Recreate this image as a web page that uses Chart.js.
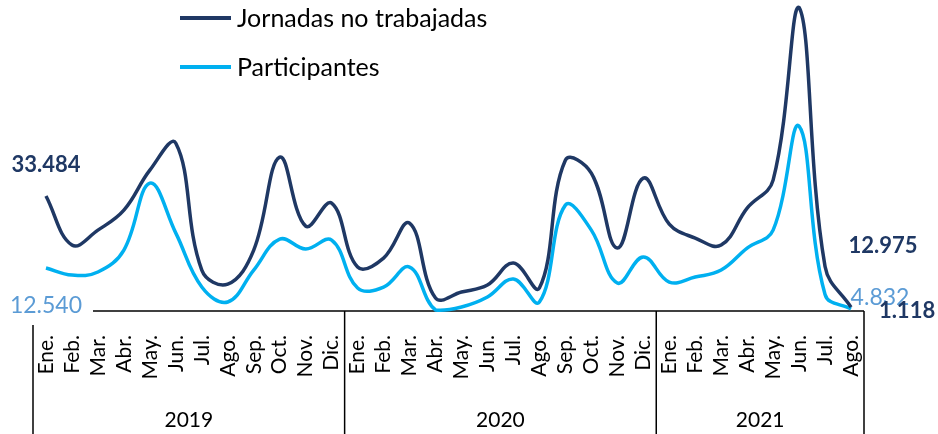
<!DOCTYPE html>
<html>
<head>
<meta charset="utf-8">
<script src="https://cdn.jsdelivr.net/npm/chart.js@4.4.1/dist/chart.umd.min.js"></script>
<style>
html,body{margin:0;padding:0;background:#fff;}
#wrap{position:relative;width:938px;height:434px;}
</style>
</head>
<body>
<div id="wrap"><canvas id="c" width="938" height="434"></canvas></div>
<script>
// ---- data ----
const months = ["Ene.","Feb.","Mar.","Abr.","May.","Jun.","Jul.","Ago.","Sep.","Oct.","Nov.","Dic."];
const years = ["2019","2020","2021"];
const monthsPerYear = [12, 12, 8];
const seriesNames = ["Jornadas no trabajadas", "Participantes"];
const jornadas = [33484,19200,23560,29380,41020,48870,11930,7850,17750,44800,24730,31420,
                  12800,15420,25600,3780,5530,7560,13960,6690,43930,40140,18330,38690,
                  25310,21240,19200,29960,38110,88430,12975,1118];
const participantes = [12540,10470,11350,17750,37240,22690,6980,2620,11930,20950,18040,20650,
                       6690,6980,12800,300,1160,4070,9310,2620,30840,23560,8150,15710,
                       8440,9890,11930,18330,23560,53820,4832,600];

// ---- derived ----
const labels = [];
monthsPerYear.forEach((n) => { for (let i = 0; i < n; i++) labels.push(months[i]); });

const NAVY = '#1F3864';
const CYAN = '#00B0F0';
const LIGHTTXT = '#5B9BD5';
const FONT = 'Lato, "Open Sans", sans-serif';

function fmt(v){ return String(v).replace(/\B(?=(\d{3})+(?!\d))/g, '.'); }

const decor = {
  id: 'decor',
  beforeDatasetsDraw(chart){
    const {ctx, chartArea} = chart;
    ctx.save();
    ctx.strokeStyle = '#000';
    ctx.lineWidth = 1.5;
    ctx.beginPath();
    ctx.moveTo(93, chartArea.bottom);
    ctx.lineTo(chartArea.right, chartArea.bottom);
    ctx.stroke();
    ctx.restore();
  },
  afterDraw(chart){
    const {ctx, chartArea, scales} = chart;
    const x = scales.x, y = scales.y;
    const H = chart.height;
    ctx.save();
    // group separators
    ctx.strokeStyle = '#000';
    ctx.lineWidth = 1.5;
    const step = x.getPixelForValue(1) - x.getPixelForValue(0);
    let idx = 0;
    const bounds = [chartArea.left];
    monthsPerYear.forEach(n => { idx += n; bounds.push(x.getPixelForValue(idx - 1) + step / 2); });
    bounds.forEach((bx, i) => {
      ctx.beginPath();
      ctx.moveTo(bx, i === 0 ? chartArea.bottom + 14 : chartArea.bottom);
      ctx.lineTo(bx, H);
      ctx.stroke();
    });
    // year labels
    ctx.fillStyle = '#000';
    ctx.font = '21px ' + FONT;
    ctx.textAlign = 'center';
    ctx.textBaseline = 'middle';
    years.forEach((yr, i) => {
      ctx.fillText(yr, (bounds[i] + bounds[i + 1]) / 2, 420);
    });
    // legend
    const legendItems = [[seriesNames[0], NAVY, 18], [seriesNames[1], CYAN, 67]];
    legendItems.forEach(([t, c, ly]) => {
      ctx.strokeStyle = c;
      ctx.lineWidth = 4;
      ctx.beginPath();
      ctx.moveTo(180, ly);
      ctx.lineTo(231, ly);
      ctx.stroke();
      ctx.fillStyle = '#000';
      ctx.font = '25px ' + FONT;
      ctx.textAlign = 'left';
      ctx.textBaseline = 'middle';
      ctx.fillText(t, 237, ly + 1);
    });
    // value annotations
    const last = jornadas.length - 1;
    const x0 = x.getPixelForValue(0);
    const xl = x.getPixelForValue(last);
    ctx.textAlign = 'center';
    ctx.textBaseline = 'middle';
    ctx.font = 'bold 22px ' + FONT;
    ctx.fillStyle = NAVY;
    ctx.fillText(fmt(jornadas[0]), x0, y.getPixelForValue(jornadas[0]) - 31);
    ctx.font = '23px ' + FONT;
    ctx.fillStyle = LIGHTTXT;
    ctx.fillText(fmt(participantes[0]), x0, chartArea.bottom - 5);
    ctx.font = 'bold 22px ' + FONT;
    ctx.fillStyle = NAVY;
    ctx.fillText(fmt(jornadas[last - 1]), xl + 32, 246);
    ctx.font = '23px ' + FONT;
    ctx.fillStyle = LIGHTTXT;
    ctx.fillText(fmt(participantes[last - 1]), xl + 29, 298);
    ctx.font = 'bold 22px ' + FONT;
    ctx.fillStyle = NAVY;
    ctx.fillText(fmt(jornadas[last]), xl + 56, 311);
    ctx.restore();
  }
};

new Chart(document.getElementById('c'), {
  type: 'line',
  data: {
    labels: labels,
    datasets: [
      { label: seriesNames[0], data: jornadas, borderColor: NAVY, borderWidth: 3.5,
        pointRadius: 0, tension: 0.4, fill: false, clip: false },
      { label: seriesNames[1], data: participantes, borderColor: CYAN, borderWidth: 3.5,
        pointRadius: 0, tension: 0.4, fill: false, clip: false }
    ]
  },
  options: {
    responsive: false,
    animation: false,
    layout: { padding: { left: 33, right: 74, top: 2, bottom: 0 } },
    plugins: { legend: { display: false }, tooltip: { enabled: false } },
    scales: {
      x: {
        offset: true,
        grid: { display: false },
        border: { display: false },
        ticks: { autoSkip: false, minRotation: 90, maxRotation: 90, padding: 16,
                 color: '#000', font: { family: FONT, size: 21 } },
        afterFit(s){ s.height = 123; }
      },
      y: { display: false, min: 0, max: 90000 }
    }
  },
  plugins: [decor]
});
</script>
</body>
</html>
